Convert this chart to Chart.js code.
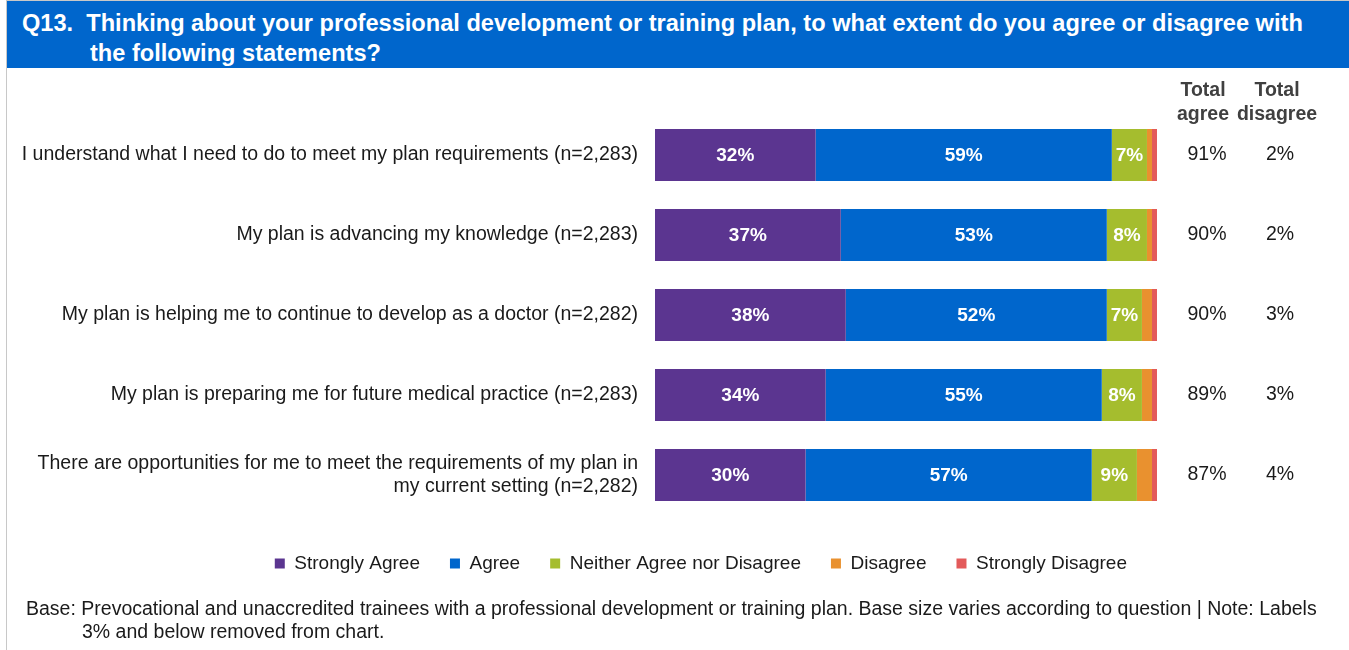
<!DOCTYPE html>
<html>
<head>
<meta charset="utf-8">
<script src="https://cdn.jsdelivr.net/npm/chart.js@4"></script>
<style>
    body { margin: 0; background: #fff; font-family: "Liberation Sans", Arial, sans-serif; }
    #wrap { position: relative; width: 1349px; height: 650px; overflow: hidden; }
    #frame { position: absolute; left: 6px; top: 0; width: 1343px; height: 650px; border-left: 1px solid #c8c8c8; border-top: 1px solid #c8c8c8; box-sizing: border-box; }
    #banner { position: absolute; left: 7px; top: 1px; width: 1342px; height: 67px; background: #0066cc; color: #fff; font-weight: bold; font-size: 23.6px; line-height: 30px; }
    #banner div { position: absolute; white-space: pre; }
    #note { position: absolute; left: 26px; top: 597px; font-size: 19.5px; line-height: 23px; color: #1a1a1a; white-space: pre; }
    canvas { position: absolute; left: 0; top: 0; }
</style>
</head>
<body>
<div id="wrap">
    <div id="frame"></div>
    <div id="banner">
        <div style="left:15px; top:7px;">Q13.  Thinking about your professional development or training plan, to what extent do you agree or disagree with</div>
        <div style="left:83px; top:37px;">the following statements?</div>
    </div>
    <canvas id="myChart" width="1349" height="650"></canvas>
    <div id="note">Base: Prevocational and unaccredited trainees with a professional development or training plan. Base size varies according to question | Note: Labels<br><span style="margin-left:56px">3% and below removed from chart.</span></div>
</div>
<script>
const labels = [
    'I understand what I need to do to meet my plan requirements (n=2,283)',
    'My plan is advancing my knowledge (n=2,283)',
    'My plan is helping me to continue to develop as a doctor (n=2,282)',
    'My plan is preparing me for future medical practice (n=2,283)',
    ['There are opportunities for me to meet the requirements of my plan in', 'my current setting (n=2,282)']
];
const stronglyAgree = [32, 37, 38, 34, 30];
const agree = [59, 53, 52, 55, 57];
const neither = [7, 8, 7, 8, 9];
const disagree = [1, 1, 2, 2, 3];
const stronglyDisagree = [1, 1, 1, 1, 1];
const totalAgree = ['91%', '90%', '90%', '89%', '87%'];
const totalDisagree = ['2%', '2%', '3%', '3%', '4%'];

const fuente = '"Liberation Sans", Arial, sans-serif';

// etiquetas dentro de las barras (solo > 3%)
const etiquetas = {
    id: 'etiquetas',
    afterDatasetsDraw(chart) {
        const ctx = chart.ctx;
        ctx.save();
        ctx.font = 'bold 19px ' + fuente;
        ctx.fillStyle = '#ffffff';
        ctx.textAlign = 'center';
        ctx.textBaseline = 'middle';
        chart.data.datasets.forEach((ds, i) => {
            const meta = chart.getDatasetMeta(i);
            meta.data.forEach((bar, j) => {
                if (ds.data[j] > 3) {
                    ctx.fillText(ds.data[j] + '%', (bar.x + bar.base) / 2, bar.y + 1);
                }
            });
        });
        ctx.restore();
    }
};

// columnas de totales a la derecha
const totales = {
    id: 'totales',
    afterDraw(chart) {
        const ctx = chart.ctx;
        const y = chart.scales.y;
        ctx.save();
        ctx.textAlign = 'center';
        ctx.textBaseline = 'middle';
        ctx.font = 'bold 19.5px ' + fuente;
        ctx.fillStyle = '#404040';
        ctx.fillText('Total', 1203, 91);
        ctx.fillText('agree', 1203, 115);
        ctx.fillText('Total', 1277, 91);
        ctx.fillText('disagree', 1277, 115);
        ctx.font = '19.5px ' + fuente;
        ctx.fillStyle = '#1a1a1a';
        totalAgree.forEach((t, i) => {
            const py = y.getPixelForValue(i);
            ctx.fillText(t, 1207, py);
            ctx.fillText(totalDisagree[i], 1280, py);
        });
        ctx.restore();
    }
};

const datas = {
    labels: labels,
    datasets: [
        { label: 'Strongly Agree', data: stronglyAgree, backgroundColor: '#5b3590' },
        { label: 'Agree', data: agree, backgroundColor: '#0066cc' },
        { label: 'Neither Agree nor Disagree', data: neither, backgroundColor: '#a5bd2e' },
        { label: 'Disagree', data: disagree, backgroundColor: '#e9912f' },
        { label: 'Strongly Disagree', data: stronglyDisagree, backgroundColor: '#e35a5a' }
    ]
};

const config = {
    type: 'bar',
    data: datas,
    options: {
        indexAxis: 'y',
        responsive: false,
        animation: false,
        datasets: { bar: { categoryPercentage: 0.65, barPercentage: 1 } },
        layout: { padding: { top: 115, left: 0, right: 192, bottom: 67 } },
        scales: {
            x: {
                stacked: true, min: 0, max: 100,
                grid: { display: false }, border: { display: false },
                ticks: { display: false },
                afterFit: (s) => { s.height = 9; }
            },
            y: {
                stacked: true,
                grid: { display: false }, border: { display: false },
                ticks: { color: '#1a1a1a', padding: 9, font: { family: fuente, size: 19.5 } },
                afterFit: (s) => { s.width = 655; }
            }
        },
        plugins: {
            legend: {
                position: 'bottom',
                align: 'end',
                labels: {
                    boxWidth: 10, boxHeight: 10, padding: 30,
                    color: '#1a1a1a',
                    font: { family: fuente, size: 19 }
                }
            },
            tooltip: { enabled: false }
        }
    },
    plugins: [etiquetas, totales]
};

myChart = new Chart(document.getElementById('myChart'), config);
</script>
</body>
</html>
